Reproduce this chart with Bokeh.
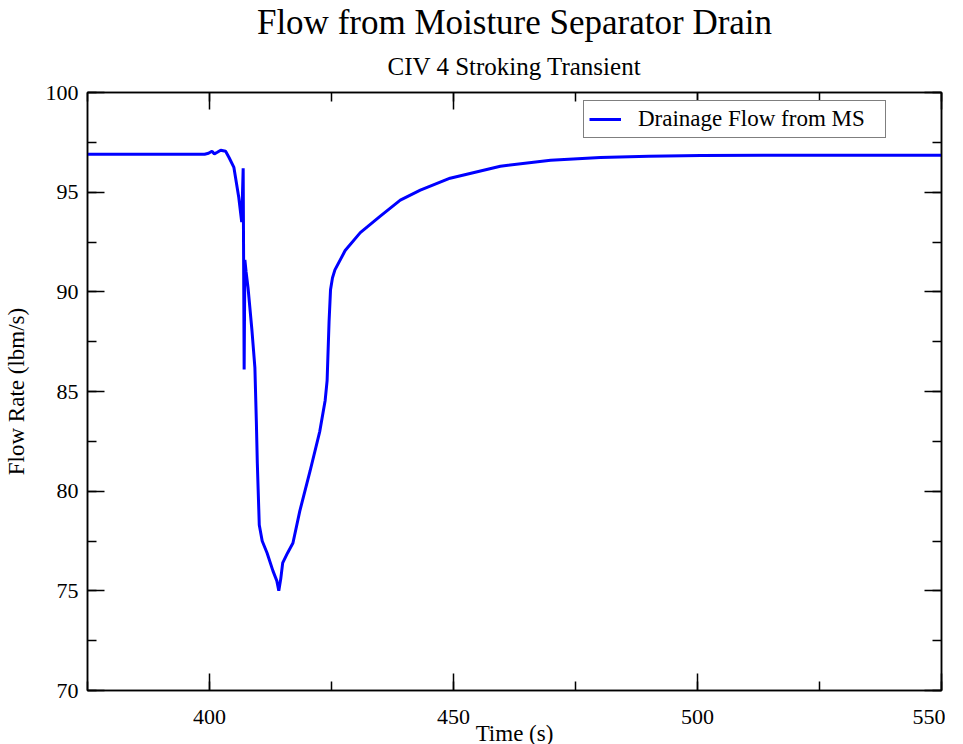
from bokeh.plotting import figure
from bokeh.models import (LinearAxis, Title, Legend, LegendItem, SingleIntervalTicker, Range1d,
                          CustomJSTickFormatter)
from bokeh.embed import file_html
from bokeh.resources import INLINE

time_s = [375.0, 390.0, 399.0, 399.8, 400.5, 401.0, 401.6, 402.3, 403.3, 404.0, 405.0,
          406.0, 406.6, 406.9, 407.1, 407.25, 407.5, 407.9, 408.7, 409.3, 409.6, 409.8,
          410.2, 410.8, 411.8, 413.0, 413.8, 414.2, 414.4, 414.6, 415.0, 416.0, 417.1,
          418.5, 420.6, 422.6, 423.7, 424.1, 424.5, 424.8, 425.2, 425.7, 427.8, 430.9,
          435.0, 439.1, 443.2, 449.3, 459.6, 469.9, 480.1, 490.0, 500.7, 521.2, 550.0]
flow_rate = [96.9, 96.9, 96.9, 96.95, 97.05, 96.92, 97.0, 97.1, 97.05, 96.74, 96.24,
             94.73, 93.5, 96.2, 86.1, 91.6, 91.0, 90.2, 88.06, 86.2, 83.5, 81.4,
             78.3, 77.5, 76.9, 76.0, 75.5, 75.0, 75.3, 75.6, 76.4, 76.9, 77.4,
             79.0, 81.0, 83.0, 84.55, 85.55, 88.5, 90.1, 90.7, 91.1, 92.07, 92.97,
             93.8, 94.6, 95.1, 95.7, 96.3, 96.6, 96.74, 96.8, 96.84, 96.85, 96.85]

x_ticks_major = 50
y_ticks_major = 5
title_text = "Flow from Moisture Separator Drain"
subtitle_text = "CIV 4 Stroking Transient"

FONT = "Liberation Serif"

p = figure(frame_width=854, frame_height=598, output_backend="svg", toolbar_location=None,
           x_range=Range1d(375, 550), y_range=Range1d(70, 100),
           min_border_left=0, min_border_right=4, min_border_top=0, min_border_bottom=0)
p.grid.visible = False
p.outline_line_color = "black"
p.outline_line_width = 1.5

r = p.line(time_s, flow_rate, line_color="#0000ff", line_width=3)

def style_axis(ax):
    ax.axis_line_width = 1.5
    ax.axis_line_color = "black"
    ax.major_tick_in = 17
    ax.major_tick_out = 0
    ax.minor_tick_in = 9
    ax.minor_tick_out = 0
    ax.major_tick_line_width = 1.5
    ax.minor_tick_line_width = 1.5
    ax.major_label_text_font = FONT
    ax.major_label_text_font_size = "22px"
    ax.major_label_text_color = "black"
    ax.axis_label_text_font = FONT
    ax.axis_label_text_font_size = "23px"
    ax.axis_label_text_font_style = "normal"
    ax.axis_label_text_color = "black"

p.xaxis.ticker = SingleIntervalTicker(interval=x_ticks_major, num_minor_ticks=2)
p.yaxis.ticker = SingleIntervalTicker(interval=y_ticks_major, num_minor_ticks=2)
style_axis(p.xaxis[0])
style_axis(p.yaxis[0])
p.xaxis.axis_label = "Time (s)"
p.yaxis.axis_label = "Flow Rate (lbm/s)"
p.xaxis.major_label_standoff = 19
p.xaxis.axis_label_standoff = -6
p.yaxis.major_label_standoff = 9
p.yaxis.axis_label_standoff = 14

blank = CustomJSTickFormatter(code="return '';")
top_ax = LinearAxis(ticker=SingleIntervalTicker(interval=x_ticks_major, num_minor_ticks=2),
                    formatter=blank)
right_ax = LinearAxis(ticker=SingleIntervalTicker(interval=y_ticks_major, num_minor_ticks=2),
                      formatter=blank)
for ax in (top_ax, right_ax):
    style_axis(ax)
    ax.major_label_standoff = 0
    ax.axis_label_standoff = 0
p.add_layout(top_ax, "above")
p.add_layout(right_ax, "right")

p.add_layout(Title(text=subtitle_text, text_font=FONT, text_font_size="25px",
                   text_font_style="normal", text_color="black", align="center",
                   vertical_align="top", standoff=22), "above")
p.add_layout(Title(text=title_text, text_font=FONT, text_font_size="35px",
                   text_font_style="normal", text_color="black", align="center",
                   standoff=0), "above")

legend = Legend(items=[LegendItem(label="Drainage Flow from MS", renderers=[r])],
                location=(496, 552), label_text_font=FONT, label_text_font_size="23px",
                label_text_color="black", label_width=242,
                border_line_color="black", border_line_width=1.5, glyph_width=32,
                label_standoff=17, padding=5, margin=0, background_fill_alpha=1)
p.add_layout(legend, "center")

open("out.html", "w").write(file_html(p, INLINE))
